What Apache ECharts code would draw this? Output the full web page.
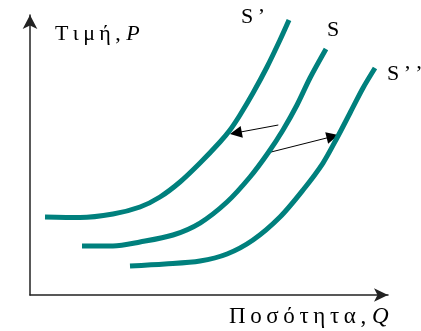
<!DOCTYPE html>
<html>
<head>
<meta charset="utf-8">
<script src="https://cdn.jsdelivr.net/npm/echarts@6/dist/echarts.min.js"></script>
<style>
html,body{margin:0;padding:0;background:#fff;}
#chart{width:421px;height:331px;}
</style>
</head>
<body>
<div id="chart"></div>
<script>
// Supply curves (quantity Q, price P) in arbitrary units 0..100
const supplyShiftLeft = [[4.19,27.86],[13.97,27.68],[23.18,28.93],[30.73,31.43],[36.31,35.0],[41.9,40.36],[47.49,47.14],[53.07,54.64],[55.87,58.93],[58.66,64.29],[62.29,72.14],[66.2,81.43],[69.83,91.07],[72.35,98.21]];
const supply = [[14.53,17.5],[23.18,17.5],[30.73,18.93],[39.94,21.43],[47.49,25.71],[55.03,33.21],[61.45,42.14],[66.48,50.71],[70.67,58.93],[74.58,67.86],[78.21,77.5],[82.68,87.86]];
const supplyShiftRight = [[27.93,10.36],[37.71,11.07],[47.49,12.14],[55.03,14.64],[62.29,19.64],[69.83,27.86],[76.26,37.5],[81.84,47.14],[85.75,56.07],[89.39,65.0],[93.02,73.93],[96.37,81.07]];
// Shift arrows: [from, to]
const shiftArrows = [
  [[69.36,60.71],[57.5,57.9]],
  [[65.92,50.61],[84.5,56.6]]
];
const curveNames = ['S\u2009’', 'S', 'S\u2009’\u2009’'];
const yAxisTitle = ['Τ\u2009ι\u2009μ\u2009ή\u2009,\u00A0', 'P'];
const xAxisTitle = ['Π\u2009ο\u2009σ\u2009ό\u2009τ\u2009η\u2009τ\u2009α\u2009,\u00A0', 'Q'];

const teal = '#00807d';
const serif = '"Liberation Serif", "DejaVu Serif", serif';

const chart = echarts.init(document.getElementById('chart'), null, {renderer: 'canvas'});
const curveSeries = [supplyShiftLeft, supply, supplyShiftRight].map((d, i) => ({
  type: 'line',
  name: curveNames[i],
  data: d,
  smooth: 0.3,
  showSymbol: false,
  silent: true,
  lineStyle: {color: teal, width: 5, cap: 'butt'}
}));

chart.setOption({
  animation: false,
  backgroundColor: '#fff',
  grid: {left: 30, right: 33, top: 15, bottom: 36},
  xAxis: {
    type: 'value', min: 0, max: 100,
    axisLine: {show: true, symbol: ['none', 'arrow'], symbolSize: [10, 14], lineStyle: {color: '#222', width: 1.5}},
    axisTick: {show: false}, axisLabel: {show: false}, splitLine: {show: false}
  },
  yAxis: {
    type: 'value', min: 0, max: 100,
    axisLine: {show: true, symbol: ['none', 'arrow'], symbolSize: [11, 14], lineStyle: {color: '#222', width: 1.5}},
    axisTick: {show: false}, axisLabel: {show: false}, splitLine: {show: false}
  },
  series: curveSeries.concat([{
    type: 'lines',
    coordinateSystem: 'cartesian2d',
    silent: true,
    symbol: ['none', 'triangle'],
    symbolSize: [8, 12],
    lineStyle: {color: '#000', width: 1, opacity: 1, curveness: 0},
    data: shiftArrows.map(c => ({coords: c}))
  }]),
  graphic: [
    {type: 'text', left: 55, top: 23, style: {
      text: '{a|' + yAxisTitle[0] + '}{b|' + yAxisTitle[1] + '}',
      rich: {a: {fontFamily: serif, fontSize: 22, fill: '#000'}, b: {fontFamily: serif, fontSize: 22, fontStyle: 'italic', fill: '#000'}}
    }},
    {type: 'text', left: 229, top: 305, style: {
      text: '{a|' + xAxisTitle[0] + '}{b|' + xAxisTitle[1] + '}',
      rich: {a: {fontFamily: serif, fontSize: 23, fill: '#000'}, b: {fontFamily: serif, fontSize: 23, fontStyle: 'italic', fill: '#000'}}
    }},
    {type: 'text', left: 241, top: 6, style: {text: curveNames[0], fontFamily: serif, fontSize: 22, fill: '#000'}},
    {type: 'text', left: 327, top: 19, style: {text: curveNames[1], fontFamily: serif, fontSize: 22, fill: '#000'}},
    {type: 'text', left: 387, top: 63, style: {text: curveNames[2], fontFamily: serif, fontSize: 22, fill: '#000'}}
  ]
});
</script>
</body>
</html>
